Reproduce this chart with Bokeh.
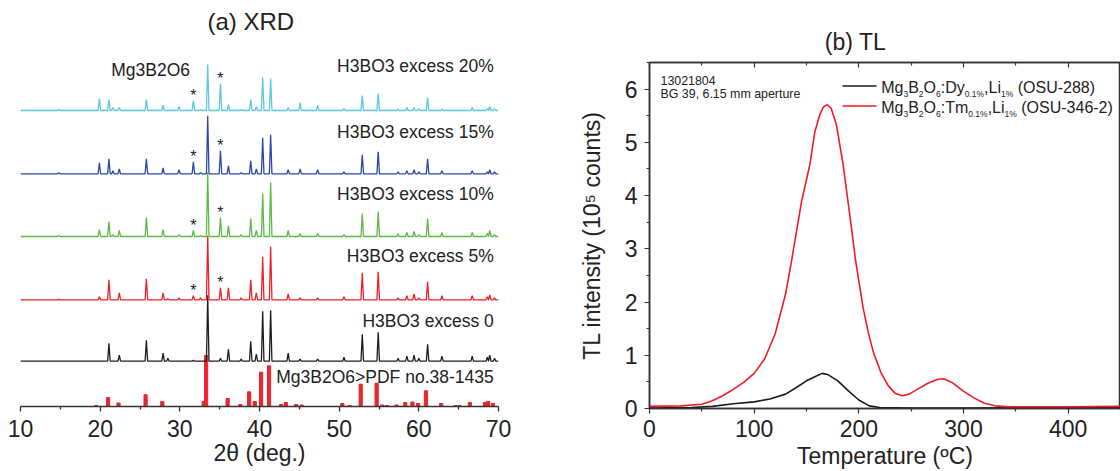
from bokeh.plotting import figure
from bokeh.layouts import row
from bokeh.models import Label, FixedTicker, Range1d, LinearAxis, CustomJSTickFormatter
from bokeh.embed import file_html
from bokeh.resources import INLINE
from bokeh.core.properties import value

FONT = "Liberation Sans"

# ---------------- (a) XRD data ----------------
peak_pos = [14.8, 19.9, 21.1, 21.6, 22.4, 25.8, 27.9, 28.5, 29.9, 31.7, 32.6, 33.5,
            35.1, 36.1, 37.7, 38.9, 39.6, 40.4, 41.4, 43.6, 45.1, 47.3, 50.6, 52.9,
            54.9, 57.4, 58.5, 59.4, 60.0, 61.1, 62.9, 66.7, 68.6, 68.9, 69.5]
h_ex0 = [0, 0, 18, 0, 6, 21, 8, 3, 0, 1, 0, 66,
         3, 12, 2, 20, 7, 50, 51, 8, 2, 2, 4, 27,
         29, 3, 5, 6, 3, 17, 5, 5, 4, 6, 3]
h_ex5 = [0.5, 3, 20, 0, 7, 21, 7, 1, 2, 4, 2, 64,
         12, 12, 2, 20, 7, 43, 53, 6, 2, 2, 3, 27,
         28, 2, 4, 6, 2, 18, 4, 4, 3, 5, 2]
h_ex10 = [1, 7, 15, 2, 6, 19, 7, 0, 2, 6, 1, 64,
          19, 11, 2, 18, 6, 43, 54, 6, 3, 3, 2, 23,
          25, 3, 4, 5, 2, 18, 4, 4, 3, 6, 2]
h_ex15 = [1, 11, 15, 3, 5, 15, 6, 0, 4, 12, 1, 58,
          23, 8, 1, 13, 5, 36, 39, 4, 5, 4, 2, 19,
          22, 2, 3, 4, 2, 15, 3, 3, 2, 4, 2]
h_ex20 = [1, 12, 11, 3, 3, 11, 5, 0, 4, 10, 1, 46,
          27, 6, 1, 11, 4, 33, 32, 3, 8, 5, 2, 15,
          17, 2, 3, 3, 2, 13, 2, 3, 2, 4, 2]

pdf_pos = [19.5, 21.0, 22.3, 25.7, 27.8, 33.0, 33.3, 36.0, 37.6, 38.7, 39.4, 40.2,
           41.2, 42.7, 43.3, 44.6, 45.3, 50.4, 51.3, 52.7, 54.7, 55.4, 56.0, 57.2,
           58.3, 59.2, 59.9, 60.9, 62.8, 64.6, 65.1, 66.4, 68.3, 68.7, 69.3]
pdf_h = [1, 9, 3.5, 11.7, 5, 5, 51, 8, 2, 14.7, 5, 34.3,
         40.7, 2, 4, 2, 1.5, 3, 1, 22.3, 23.3, 1.5, 1, 1.5,
         4, 4.5, 3, 15.7, 3, 1, 1, 4, 4, 5, 3]

trace_labels = ["H3BO3 excess 0", "H3BO3 excess 5%", "H3BO3 excess 10%",
                "H3BO3 excess 15%", "H3BO3 excess 20%"]
trace_heights = [h_ex0, h_ex5, h_ex10, h_ex15, h_ex20]
trace_offsets = [45.3, 106.7, 170, 232.7, 296]
trace_colors = ["#1E1E1E", "#EC2027", "#5DB946", "#2A48A5", "#5CC8DB"]
label_y = [86, 151, 213, 274.5, 341]
star_pos = [31.7, 35.1]
pdf_label = "Mg3B2O6>PDF no.38-1435"
phase_label = "Mg3B2O6"

# ---------------- (b) TL data ----------------
T_tm = [0, 30, 50, 60, 70, 80, 90, 100, 110, 120, 130, 135.7, 145.3, 153.2, 158,
        162.7, 166, 169.7, 173.5, 178.6, 185, 191.3, 197, 204, 209, 214, 221, 228,
        235, 241.5, 248, 255, 265.5, 275.5, 281, 289, 299.5, 310, 320, 330, 344,
        400, 450]
I_tm = [0.04, 0.05, 0.08, 0.145, 0.24, 0.36, 0.49, 0.66, 0.93, 1.40, 2.15, 2.77,
        3.89, 4.58, 5.20, 5.52, 5.66, 5.71, 5.64, 5.33, 4.58, 3.64, 2.77, 1.90,
        1.43, 1.05, 0.68, 0.43, 0.28, 0.24, 0.27, 0.35, 0.47, 0.55, 0.56, 0.49,
        0.33, 0.20, 0.10, 0.05, 0.03, 0.03, 0.04]
T_dy = [0, 40, 60, 80, 100, 115, 130, 140, 150, 160, 165, 170, 180, 190, 200, 210,
        220, 250, 300, 350, 450]
I_dy = [0.01, 0.02, 0.04, 0.09, 0.125, 0.18, 0.27, 0.39, 0.52, 0.615, 0.66, 0.64,
        0.52, 0.33, 0.16, 0.05, 0.02, 0.01, 0.01, 0.015, 0.02]

leg_dy = [("Mg", 0), ("3", 1), ("B", 0), ("2", 1), ("O", 0), ("6", 1), (":Dy", 0),
          ("0.1%", 1), (",Li", 0), ("1%", 1), ("\u00a0(OSU-288)", 0)]
leg_tm = [("Mg", 0), ("3", 1), ("B", 0), ("2", 1), ("O", 0), ("6", 1), (":Tm", 0),
          ("0.1%", 1), (",Li", 0), ("1%", 1), ("\u00a0(OSU-346-2)", 0)]
note_lines = ["13021804", "BG 39, 6.15 mm aperture"]

AX = "#333333"
TXT = "#222222"


def spectrum(pos, hts, base, w=0.16):
    xs, ys = [10.0], [base]
    for p_, h in zip(pos, hts):
        if h <= 0:
            continue
        xs += [p_ - w, p_, p_ + w]
        ys += [base, base + h, base]
    xs.append(70.0)
    ys.append(base)
    return xs, ys


# ---------------- left figure ----------------
p1 = figure(frame_width=478, frame_height=406, x_range=Range1d(10, 70),
            y_range=Range1d(0, 406), output_backend="svg", toolbar_location=None,
            min_border_left=20, min_border_right=20, min_border_top=0,
            min_border_bottom=0, y_axis_location=None)
p1.frame_align = False
p1.outline_line_color = None
p1.grid.visible = False

p1.vbar(x=pdf_pos, top=pdf_h, bottom=0, width=0.4, color="#E8262B")
for hts, off, col in zip(trace_heights, trace_offsets, trace_colors):
    xs, ys = spectrum(peak_pos, hts, off)
    p1.line(xs, ys, line_color=col, line_width=1.3)

# asterisks over impurity peaks
sx, sy = [], []
for hts, off in zip(trace_heights[1:], trace_offsets[1:]):
    for sp in star_pos:
        i = peak_pos.index(sp)
        sx.append(sp)
        sy.append(off + hts[i] + 5)
p1.text(x=sx, y=sy, text=["*"] * len(sx), text_font=value(FONT), text_font_size="16px",
        text_align="center", text_baseline="alphabetic", text_color=TXT)

p1.text(x=[69.4] * 5, y=label_y, text=trace_labels, text_font=value(FONT),
        text_font_size="17.5px", text_align="right", text_baseline="alphabetic",
        text_color=TXT)
p1.text(x=[69.4], y=[29.3], text=[pdf_label], text_font=value(FONT),
        text_font_size="17.5px", text_align="right", text_baseline="alphabetic",
        text_color=TXT)
p1.text(x=[26.33], y=[336.3], text=[phase_label], text_font=value(FONT),
        text_font_size="17.5px", text_align="center", text_baseline="alphabetic",
        text_color=TXT)
p1.add_layout(Label(x=38.9, y=385.5, text="(a) XRD", text_font=FONT,
                    text_font_size="24px", text_align="center",
                    text_baseline="alphabetic", text_color=TXT))

xa = p1.xaxis[0]
xa.ticker = FixedTicker(ticks=[10, 20, 30, 40, 50, 60, 70],
                        minor_ticks=[15, 25, 35, 45, 55, 65])
xa.axis_label = "2θ (deg.)"
xa.axis_line_color = AX
xa.axis_line_width = 1.5
xa.major_tick_line_color = AX
xa.minor_tick_line_color = AX
xa.major_tick_line_width = 1.3
xa.minor_tick_line_width = 1.3
xa.major_tick_out = 5
xa.major_tick_in = 0
xa.minor_tick_out = 3
xa.minor_tick_in = 0
xa.major_label_text_font = FONT
xa.major_label_text_font_size = "23px"
xa.major_label_text_color = TXT
xa.major_label_standoff = 8
xa.axis_label_text_font = FONT
xa.axis_label_text_font_size = "23px"
xa.axis_label_text_font_style = "normal"
xa.axis_label_text_color = TXT
xa.axis_label_standoff = 0

# ---------------- right figure ----------------
F_LEFT, F_TOP, F_BOTTOM = 649.0, 62.0, 408.0
FW, FH = 471, 346
XMAX = 450.0
YMAX = 6.5
sx_ = FW / XMAX
sy_ = FH / YMAX


def tx(px):
    return (px - F_LEFT) / sx_


def ty(py):
    return (F_BOTTOM - py) / sy_


p2 = figure(frame_width=FW, frame_height=FH, x_range=Range1d(0, XMAX),
            y_range=Range1d(0, YMAX), output_backend="svg", toolbar_location=None,
            min_border_left=int(F_LEFT - 518), min_border_top=int(F_TOP),
            min_border_right=0, min_border_bottom=0)
p2.frame_align = False
p2.grid.visible = False
p2.outline_line_color = AX
p2.outline_line_width = 1.5
p2.title.text = "(b) TL"
p2.title.text_font = FONT
p2.title.text_font_size = "23px"
p2.title.text_font_style = "normal"
p2.title.text_color = TXT
p2.title.align = "left"
p2.title.offset = 824.3 - F_LEFT
p2.title.standoff = 15

p2.line(T_dy, I_dy, line_color="#1A1A1A", line_width=1.6)
p2.line(T_tm, I_tm, line_color="#EE1C25", line_width=1.6)

xb = p2.xaxis[0]
yb = p2.yaxis[0]
xb.ticker = FixedTicker(ticks=[0, 100, 200, 300, 400],
                        minor_ticks=[50, 150, 250, 350, 450])
yb.ticker = FixedTicker(ticks=[0, 1, 2, 3, 4, 5, 6],
                        minor_ticks=[0.5, 1.5, 2.5, 3.5, 4.5, 5.5, 6.5])
xb.axis_label = "Temperature (ºC)"
yb.axis_label = "TL intensity (10⁵ counts)"
top_ax = LinearAxis(ticker=FixedTicker(ticks=[0, 100, 200, 300, 400],
                                       minor_ticks=[50, 150, 250, 350, 450]),
                    formatter=CustomJSTickFormatter(code="return ''"))
p2.add_layout(top_ax, "above")

for ax in [xb, yb, top_ax]:
    ax.axis_line_color = AX
    ax.axis_line_width = 1.5
    ax.major_tick_line_color = AX
    ax.minor_tick_line_color = AX
    ax.major_tick_line_width = 1.2
    ax.minor_tick_line_width = 1.2
    ax.major_label_text_font = FONT
    ax.major_label_text_font_size = "23px"
    ax.major_label_text_color = TXT
    ax.axis_label_text_font = FONT
    ax.axis_label_text_font_size = "23px"
    ax.axis_label_text_font_style = "normal"
    ax.axis_label_text_color = TXT
for ax in [xb, yb]:
    ax.major_tick_out = 5
    ax.major_tick_in = 0
    ax.minor_tick_out = 3
    ax.minor_tick_in = 0
xb.major_label_standoff = 6
yb.major_label_standoff = 7
xb.axis_label_standoff = 3
yb.axis_label_standoff = 17
top_ax.major_tick_out = 0
top_ax.major_tick_in = 5
top_ax.minor_tick_out = 0
top_ax.minor_tick_in = 3
top_ax.major_label_standoff = 0

# note text
p2.text(x=[tx(660), tx(660)], y=[ty(80), ty(93.5)], text=note_lines,
        text_font=value(FONT), text_font_size="12.4px", text_align="left",
        text_baseline="alphabetic", text_color=TXT)

# manual legend with subscripts
WID = {"M": .833, "g": .556, "B": .667, "O": .778, ":": .278, "D": .722, "y": .5,
       "T": .611, "m": .833, ",": .278, "L": .556, "i": .222, " ": .278, "\u00a0": .278,
       "(": .333, ")": .333, "S": .667, "U": .722, "-": .333, ".": .278, "%": .889}


def twidth(s, size):
    return sum(WID.get(c, .556) for c in s) * size


MAIN, SUB = 16.0, 8.5
for segs, line_py, col in [(leg_dy, 85.5, "#1A1A1A"), (leg_tm, 105.5, "#EE1C25")]:
    p2.line([tx(842), tx(876)], [ty(line_py), ty(line_py)], line_color=col,
            line_width=1.6)
    cur = 880.7
    center = line_py + 1.0
    for s, sub in segs:
        size = SUB if sub else MAIN
        yy = center + 7.0 if sub else center
        p2.text(x=[tx(cur)], y=[ty(yy)], text=[s], text_font=value(FONT),
                text_font_size=f"{size}px", text_align="left",
                text_baseline="alphabetic", text_color=TXT)
        cur += twidth(s, size)

layout = row(p1, p2)
open("out.html", "w").write(file_html(layout, INLINE))
